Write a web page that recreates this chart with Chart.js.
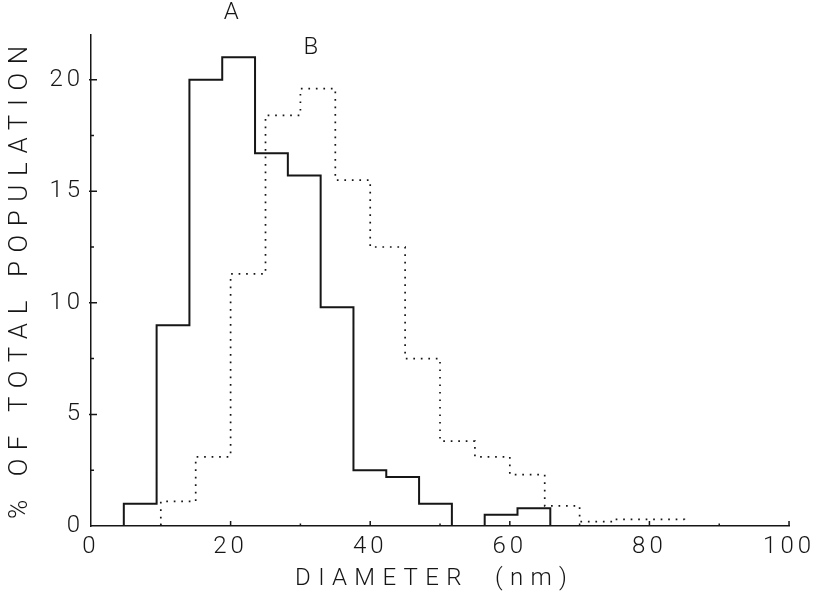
<!DOCTYPE html>
<html>
<head>
<meta charset="utf-8">
<script src="https://cdn.jsdelivr.net/npm/chart.js@4.4.1/dist/chart.umd.min.js"></script>
<style>
  body { margin: 0; background: #fff; }
  #wrap { width: 822px; height: 595px; }
</style>
</head>
<body>
<div id="wrap"><canvas id="chart" width="822" height="595"></canvas></div>
<script>
// bin edges (nm) and % of total population
const edgesA = [4.7, 9.4, 14.1, 18.8, 23.5, 28.2, 32.9, 37.6, 42.3, 47.0, 51.7, 56.4, 61.1, 65.8];
const valuesA = [1.0, 9.0, 20.0, 21.0, 16.7, 15.7, 9.8, 2.5, 2.2, 1.0, 0, 0.5, 0.8];
const edgesB = [10, 15, 20, 25, 30, 35, 40, 45, 50, 55, 60, 65, 70, 75, 80, 85];
const valuesB = [1.1, 3.1, 11.3, 18.4, 19.6, 15.5, 12.5, 7.5, 3.8, 3.1, 2.3, 0.9, 0.2, 0.3, 0.3];
const xTicks = [0, 20, 40, 60, 80, 100];
const yTicks = [0, 5, 10, 15, 20];
const seriesNames = ["A", "B"];
const xTitle = "DIAMETER  (nm)";
const yTitle = "% OF TOTAL POPULATION";

const ink = "#161616";
const font = "Roboto";

// histogram outline: up from baseline at the first edge, down at the last
function histPoints(edges, values) {
  const pts = [{ x: edges[0], y: 0 }];
  values.forEach((v, i) => pts.push({ x: edges[i + 1], y: v }));
  pts.push({ x: edges[edges.length - 1], y: 0 });
  return pts;
}

function spacedText(ctx, text, cx, cy, spacing) {
  ctx.letterSpacing = spacing + "px";
  const w = ctx.measureText(text).width - spacing;
  ctx.textAlign = "left";
  ctx.textBaseline = "middle";
  ctx.fillText(text, cx - w / 2, cy);
}

// inward ticks, axis titles and the A / B labels
const plotter = {
  id: "plotter",
  beforeLayout(chart) { chart.ctx.letterSpacing = "4px"; },
  beforeDraw(chart) { chart.ctx.letterSpacing = "4px"; },
  afterDraw(chart) {
    const ctx = chart.ctx;
    const { left, right, top, bottom } = chart.chartArea;
    const xs = chart.scales.x, ys = chart.scales.y;
    ctx.save();
    ctx.strokeStyle = ink;
    ctx.lineWidth = 1.5;
    ctx.beginPath();
    yTicks.forEach((v, i) => {
      const py = ys.getPixelForValue(v);
      if (i > 0) { ctx.moveTo(left - 2, py); ctx.lineTo(left + 6, py); }
      const mid = ys.getPixelForValue(v + 2.5);
      if (v + 2.5 < ys.max) { ctx.moveTo(left, mid); ctx.lineTo(left + 3, mid); }
    });
    xTicks.forEach((v, i) => {
      const px = xs.getPixelForValue(v);
      if (i > 0) { ctx.moveTo(px, bottom); ctx.lineTo(px, bottom - 5); }
      if (v + 10 < xs.max) {
        const mid = xs.getPixelForValue(v + 10);
        ctx.moveTo(mid, bottom); ctx.lineTo(mid, bottom - 2.5);
      }
    });
    ctx.stroke();

    ctx.fillStyle = ink;
    ctx.font = "300 24px " + font;
    spacedText(ctx, xTitle, (left + right) / 2 - 9, 579, 7.3);

    ctx.save();
    ctx.translate(20, (top + bottom) / 2 + 2);
    ctx.rotate(-Math.PI / 2);
    ctx.font = "300 26px " + font;
    spacedText(ctx, yTitle, 0, 0, 8.6);
    ctx.restore();

    ctx.font = "300 24px " + font;
    spacedText(ctx, seriesNames[0], xs.getPixelForValue(20.1), ys.getPixelForValue(23), 0);
    spacedText(ctx, seriesNames[1], xs.getPixelForValue(31.5), ys.getPixelForValue(21.4), 0);
    ctx.restore();
  }
};

new Chart(document.getElementById("chart"), {
  type: "line",
  data: {
    datasets: [
      {
        label: seriesNames[0],
        data: histPoints(edgesA, valuesA),
        stepped: "after",
        borderColor: ink,
        borderWidth: 2,
        pointRadius: 0,
        fill: false,
      },
      {
        label: seriesNames[1],
        data: histPoints(edgesB, valuesB),
        stepped: "after",
        borderColor: ink,
        borderWidth: 1.7,
        borderDash: [1.7, 5.8],
        pointRadius: 0,
        fill: false,
      },
    ],
  },
  options: {
    responsive: false,
    animation: false,
    layout: { padding: { top: 35, right: 31, left: 0, bottom: 0 } },
    plugins: { legend: { display: false }, tooltip: { enabled: false } },
    scales: {
      x: {
        type: "linear",
        min: 0,
        max: 100,
        afterBuildTicks: (s) => { s.ticks = xTicks.map((v) => ({ value: v })); },
        afterFit: (s) => { s.height = 69; },
        grid: { display: false, drawTicks: false },
        border: { display: true, color: ink, width: 1.5 },
        ticks: { color: ink, padding: 7, maxRotation: 0, font: { family: font, size: 24, weight: 300 } },
      },
      y: {
        min: 0,
        max: 22,
        afterBuildTicks: (s) => { s.ticks = yTicks.map((v) => ({ value: v })); },
        afterFit: (s) => { s.width = 91; },
        grid: { display: false, drawTicks: false },
        border: { display: true, color: ink, width: 1.5 },
        ticks: { color: ink, padding: 7, font: { family: font, size: 24, weight: 300 } },
      },
    },
  },
  plugins: [plotter],
});
</script>
</body>
</html>
